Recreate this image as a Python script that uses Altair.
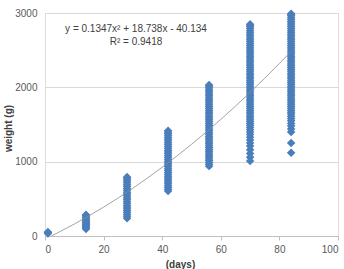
import altair as alt
import pandas as pd

# Sampling days and the weights (g) recorded on each day
days = [1, 14, 28, 42, 56, 70, 84]
w_day1 = [35, 45, 55]
w_day14 = [95, 110, 125, 140, 155, 170, 185, 200, 215, 230, 245, 260, 275, 285]
w_day28 = [240, 265, 290, 315, 340, 365, 390, 415, 440, 465, 490, 515, 540, 565,
           590, 615, 640, 665, 690, 715, 740, 765, 785, 795]
w_day42 = [605, 630, 655, 680, 705, 730, 755, 780, 805, 830, 855, 880, 905, 930,
           955, 980, 1005, 1030, 1055, 1080, 1105, 1130, 1155, 1180, 1205, 1230,
           1255, 1280, 1305, 1330, 1355, 1380, 1400, 1415]
w_day56 = [940, 965, 990, 1015, 1040, 1065, 1090, 1115, 1140, 1165, 1190, 1215,
           1240, 1265, 1290, 1315, 1340, 1365, 1390, 1415, 1440, 1465, 1490, 1515,
           1540, 1565, 1590, 1615, 1640, 1665, 1690, 1715, 1740, 1765, 1790, 1815,
           1840, 1865, 1890, 1915, 1940, 1965, 1990, 2015, 2030]
w_day70 = [1010, 1060, 1110, 1160, 1210, 1250, 1290, 1330, 1365, 1400, 1430, 1460,
           1490, 1515, 1540, 1565, 1590, 1615, 1640, 1665, 1690, 1715, 1740, 1765,
           1790, 1815, 1840, 1865, 1890, 1915, 1940, 1965, 1990, 2015, 2040, 2065,
           2090, 2115, 2140, 2165, 2190, 2215, 2240, 2265, 2290, 2315, 2340, 2365,
           2390, 2415, 2440, 2465, 2490, 2515, 2540, 2565, 2590, 2615, 2640, 2665,
           2690, 2715, 2740, 2765, 2790, 2815, 2835, 2850]
w_day84 = [1120, 1250, 1400, 1440, 1480, 1515, 1550, 1580, 1610, 1640, 1665, 1690,
           1715, 1740, 1765, 1790, 1815, 1840, 1865, 1890, 1915, 1940, 1965, 1990,
           2015, 2040, 2065, 2090, 2115, 2140, 2165, 2190, 2215, 2240, 2265, 2290,
           2315, 2340, 2365, 2390, 2415, 2440, 2465, 2490, 2515, 2540, 2565, 2590,
           2615, 2640, 2665, 2690, 2715, 2740, 2765, 2790, 2815, 2840, 2865, 2890,
           2915, 2940, 2965, 2980, 2990]
weights = [w_day1, w_day14, w_day28, w_day42, w_day56, w_day70, w_day84]

# Polynomial trendline coefficients (a*x^2 + b*x + c) and its fit quality
coef = [0.1347, 18.738, -40.134]
r2 = 0.9418
trend_x = [2.15, 5, 10, 15, 20, 25, 30, 35, 40, 45, 50, 55, 60, 65, 70, 75, 80, 84]

x_ticks = [0, 20, 40, 60, 80, 100]
y_ticks = [0, 500, 1000, 1500, 2000, 2500, 3000]

rows = [{"day": d, "weight": w} for d, ws in zip(days, weights) for w in ws]
pts = pd.DataFrame(rows)
trend = pd.DataFrame({
    "day": trend_x,
    "weight": [coef[0] * x * x + coef[1] * x + coef[2] for x in trend_x],
})

FONT = "Liberation Sans"
x_scale = alt.Scale(domain=[0, 100], nice=False)
y_scale = alt.Scale(domain=[0, 3000], nice=False)

x_axis = alt.Axis(values=x_ticks, grid=False, domainColor="#bfbfbf", tickColor="#bfbfbf",
                  tickSize=4, labelFontSize=10, labelColor="#595959", labelPadding=4,
                  labelFont=FONT, format="d", title="(days)", titleFont=FONT,
                  titleFontSize=10, titleFontWeight="bold", titleColor="#404040",
                  titleX=135, titleY=28, titleBaseline="middle")
y_axis = alt.Axis(values=y_ticks, domain=False, ticks=False, gridColor="#d9d9d9",
                  labelFontSize=10, labelColor="#595959", labelPadding=8, labelFont=FONT,
                  format="d", title="weight (g)", titleFont=FONT, titleFontSize=10,
                  titleFontWeight="bold", titleColor="#404040", titleX=-37, titleY=115,
                  titleAngle=-90, titleBaseline="middle", titleAlign="center")

scatter = alt.Chart(pts).mark_point(
    shape="diamond", filled=True, size=72, color="#4a7ebb", opacity=1
).encode(
    x=alt.X("day:Q", scale=x_scale, axis=x_axis),
    y=alt.Y("weight:Q", scale=y_scale, axis=y_axis),
)

line = alt.Chart(trend).mark_line(color="#8c8c8c", strokeWidth=0.8).encode(
    x=alt.X("day:Q", scale=x_scale),
    y=alt.Y("weight:Q", scale=y_scale),
)

eq_text = f"y = {coef[0]}x\u00b2 + {coef[1]}x - {abs(coef[2])}"
labels = alt.Chart(pd.DataFrame({"t": [eq_text, f"R\u00b2 = {r2}"],
                                 "yy": [16, 29]})).mark_text(
    font=FONT, fontSize=10, color="#404040", align="center", baseline="middle"
).encode(
    text="t:N",
    x=alt.value(91),
    y=alt.Y("yy:Q", scale=None),
)

chart = alt.layer(scatter, line, labels).properties(
    width=293, height=223,
    autosize=alt.AutoSizeParams(type="none"),
    padding={"left": 45, "top": 13, "right": 6, "bottom": 33},
).configure_view(stroke=None).configure(background="white")

chart.save("out.html", embed_options={"renderer": "svg", "actions": False})
